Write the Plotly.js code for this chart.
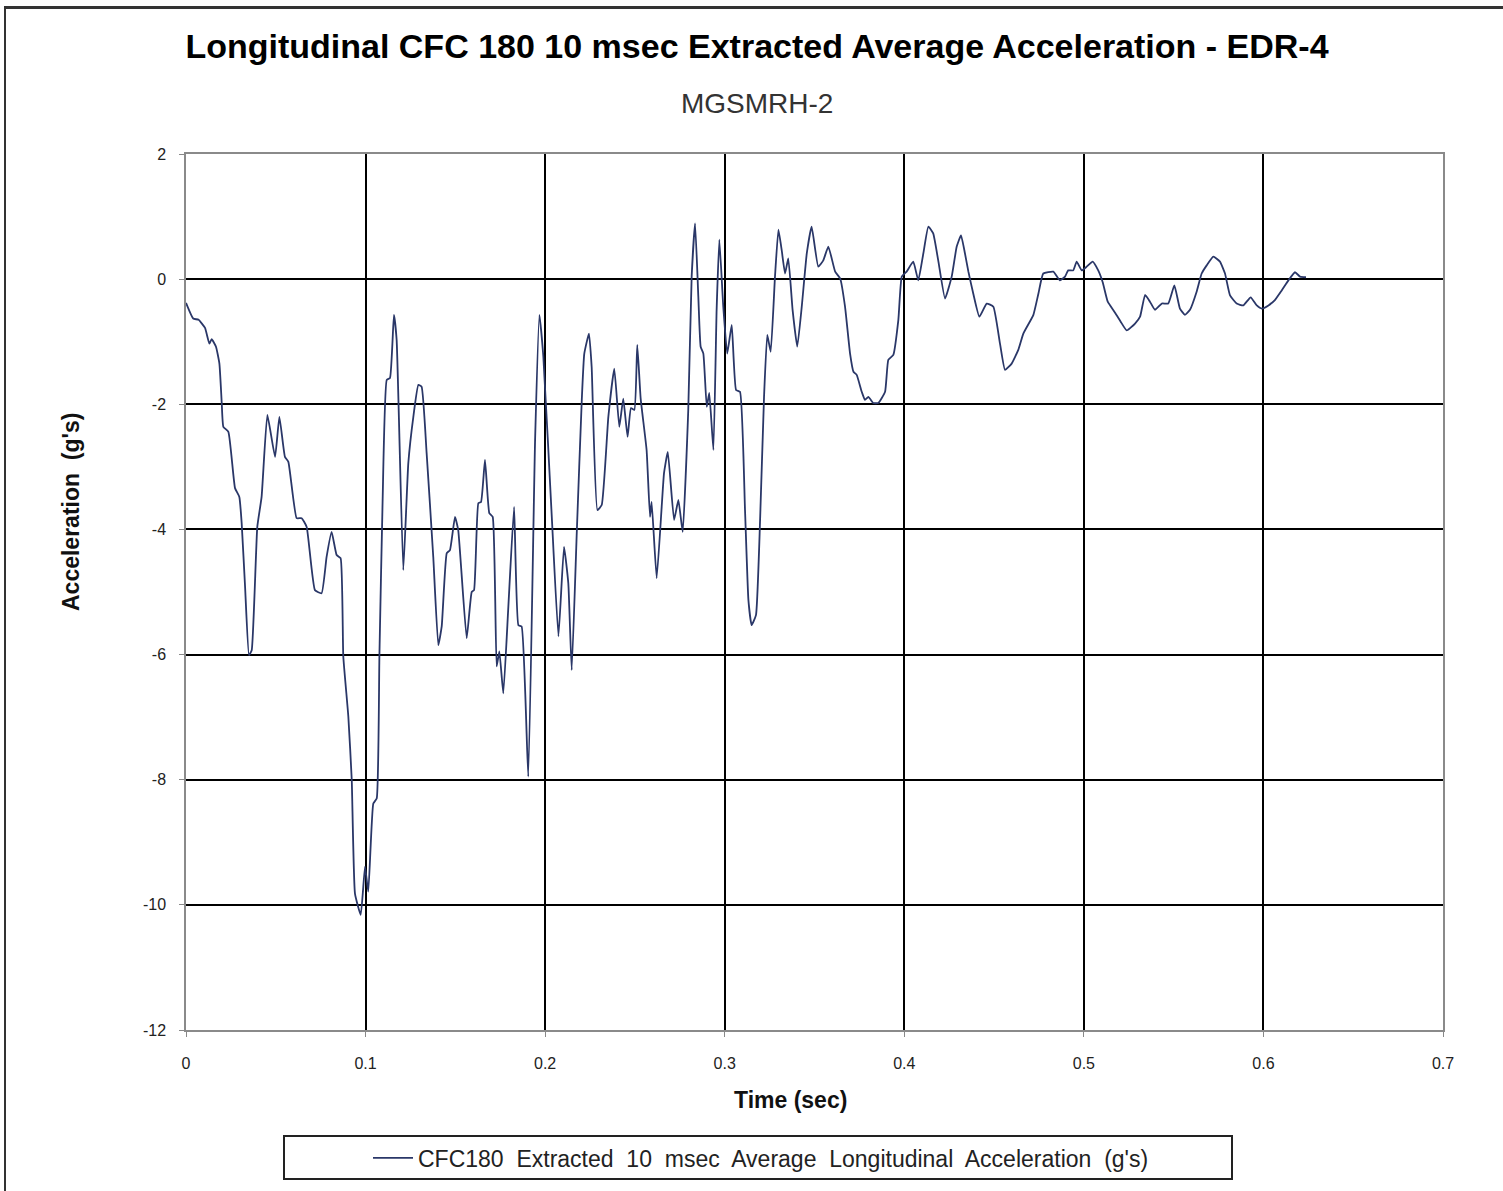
<!DOCTYPE html>
<html>
<head>
<meta charset="utf-8">
<script src="https://cdn.plot.ly/plotly-3.0.1.min.js"></script>
<style>
  html, body { margin:0; padding:0; background:#fff; }
  #wrap { position:relative; width:1503px; height:1191px; overflow:hidden; }
  #chart { width:1503px; height:1191px; }
  #frame { position:absolute; left:4px; top:6px; width:1520px; height:1200px;
           border-left:2px solid #333; border-top:3px solid #333; pointer-events:none; }
</style>
</head>
<body>
<div id="wrap">
  <div id="chart"></div>
  <div id="frame"></div>
</div>
<script>
const chartTitle = "Longitudinal CFC 180 10 msec Extracted Average Acceleration - EDR-4";
const subTitle = "MGSMRH-2";
const xTitle = "Time (sec)";
const yTitle = "Acceleration  (g's)";
const seriesName = "CFC180  Extracted  10  msec  Average  Longitudinal  Acceleration  (g's)";

const timeSec = [
  0, 0.004, 0.007, 0.0106, 0.013, 0.0143, 0.0167, 0.0186, 0.0199, 0.0208,
  0.0236, 0.0273, 0.0297, 0.031, 0.0329, 0.0351, 0.0366, 0.0397, 0.0421, 0.0453,
  0.0496, 0.052, 0.0551, 0.057, 0.0616, 0.0644, 0.0672, 0.0718, 0.0755, 0.0783,
  0.0811, 0.0839, 0.0861, 0.0876, 0.0904, 0.0923, 0.0941, 0.0973, 0.0997, 0.1015,
  0.1043, 0.1062, 0.1077, 0.1095, 0.1118, 0.1136, 0.1158, 0.1173, 0.121, 0.1238,
  0.1266, 0.1294, 0.1312, 0.134, 0.1377, 0.1405, 0.1424, 0.1452, 0.147, 0.1498,
  0.1516, 0.1563, 0.1591, 0.1604, 0.1628, 0.1643, 0.1665, 0.1689, 0.1708, 0.173,
  0.1745, 0.1767, 0.1795, 0.1827, 0.1851, 0.1869, 0.1906, 0.1944, 0.1968, 0.199,
  0.2037, 0.2074, 0.2105, 0.2129, 0.2148, 0.2176, 0.2204, 0.2218, 0.2244, 0.2259,
  0.2291, 0.2315, 0.2352, 0.2385, 0.2413, 0.2435, 0.2459, 0.2478, 0.2497, 0.2513,
  0.2532, 0.2565, 0.2584, 0.2593, 0.2621, 0.2649, 0.2662, 0.2683, 0.2718, 0.2742,
  0.2766, 0.2797, 0.2816, 0.2835, 0.2853, 0.2866, 0.2881, 0.29, 0.2914, 0.2937,
  0.2955, 0.297, 0.2992, 0.3014, 0.3039, 0.3063, 0.3085, 0.3113, 0.3132, 0.315,
  0.3174, 0.3197, 0.3219, 0.3237, 0.3256, 0.328, 0.3299, 0.3317, 0.3336, 0.3354,
  0.3378, 0.3404, 0.3429, 0.3457, 0.3484, 0.3521, 0.3549, 0.3577, 0.3615, 0.3643,
  0.367, 0.3698, 0.3717, 0.3735, 0.3763, 0.3781, 0.38, 0.3827, 0.3855, 0.3893,
  0.3911, 0.3939, 0.3967, 0.3986, 0.4013, 0.405, 0.4078, 0.4106, 0.4134, 0.4161,
  0.4189, 0.4227, 0.4264, 0.4292, 0.4316, 0.4338, 0.4357, 0.4384, 0.4418, 0.4459,
  0.4496, 0.4533, 0.4561, 0.4598, 0.4635, 0.4663, 0.4719, 0.4747, 0.4774, 0.483,
  0.4867, 0.4895, 0.4913, 0.4941, 0.496, 0.4988, 0.5016, 0.5049, 0.508, 0.5105,
  0.5133, 0.517, 0.5205, 0.5239, 0.5285, 0.5313, 0.5341, 0.5368, 0.5396, 0.5434,
  0.547, 0.5504, 0.5535, 0.5563, 0.5591, 0.5628, 0.5656, 0.5684, 0.5721, 0.5758,
  0.5786, 0.5814, 0.5851, 0.5888, 0.5929, 0.5963, 0.5991, 0.6028, 0.6065, 0.6102,
  0.6139, 0.6176, 0.6204, 0.6237
];

const accelG = [
  -0.38, -0.63, -0.65, -0.78, -1.03, -0.96, -1.08, -1.35, -1.98, -2.36,
  -2.44, -3.34, -3.48, -3.90, -4.92, -6.01, -5.93, -3.96, -3.48, -2.17,
  -2.84, -2.20, -2.84, -2.92, -3.82, -3.82, -3.96, -4.97, -5.02, -4.44,
  -4.04, -4.41, -4.46, -6.03, -6.99, -8.00, -9.82, -10.16, -9.39, -9.79,
  -8.38, -8.30, -6.03, -3.53, -1.61, -1.58, -0.57, -0.97, -4.65, -2.94,
  -2.20, -1.69, -1.72, -2.78, -4.44, -5.85, -5.55, -4.38, -4.33, -3.80,
  -4.01, -5.74, -5.00, -4.97, -3.58, -3.56, -2.89, -3.74, -3.80, -6.19,
  -5.95, -6.62, -5.24, -3.64, -5.53, -5.55, -7.95, -2.57, -0.57, -1.24,
  -3.80, -5.71, -4.28, -4.86, -6.25, -4.06, -1.93, -1.19, -0.87, -1.40,
  -3.69, -3.61, -2.20, -1.43, -2.36, -1.91, -2.52, -2.06, -2.09, -1.05,
  -1.91, -2.73, -3.80, -3.56, -4.78, -3.64, -3.10, -2.76, -3.85, -3.53,
  -4.04, -2.09, 0.04, 0.89, -0.28, -1.08, -1.19, -2.04, -1.82, -2.73,
  -0.49, 0.63, -0.44, -1.19, -0.73, -1.77, -1.80, -3.69, -5.13, -5.53,
  -5.37, -3.85, -1.88, -0.89, -1.16, 0.04, 0.79, 0.47, 0.09, 0.33,
  -0.49, -1.08, -0.44, 0.41, 0.84, 0.20, 0.30, 0.52, 0.12, 0.01,
  -0.44, -1.19, -1.48, -1.53, -1.80, -1.93, -1.88, -1.98, -1.98, -1.80,
  -1.29, -1.21, -0.65, 0.04, 0.12, 0.28, -0.02, 0.41, 0.84, 0.73,
  0.30, -0.31, 0.04, 0.52, 0.70, 0.41, 0.12, -0.23, -0.60, -0.39,
  -0.44, -1.03, -1.45, -1.35, -1.13, -0.87, -0.57, -0.23, 0.09, 0.12,
  -0.02, 0.04, 0.14, 0.14, 0.28, 0.14, 0.20, 0.28, 0.14, -0.05,
  -0.36, -0.52, -0.68, -0.82, -0.71, -0.60, -0.25, -0.36, -0.49, -0.39,
  -0.39, -0.10, -0.47, -0.57, -0.49, -0.20, 0.09, 0.22, 0.36, 0.28,
  0.09, -0.26, -0.39, -0.42, -0.29, -0.42, -0.47, -0.42, -0.33, -0.18,
  -0.02, 0.11, 0.04, 0.03
];

const xTickVals = [0, 0.1, 0.2, 0.3, 0.4, 0.5, 0.6, 0.7];
const xTickText = ["0", "0.1", "0.2", "0.3", "0.4", "0.5", "0.6", "0.7"];
const yTickVals = [2, 0, -2, -4, -6, -8, -10, -12];
const yTickText = ["2", "0", "-2", "-4", "-6", "-8", "-10", "-12"];

const FONT = "Liberation Sans, Arial, sans-serif";

const trace = {
  x: timeSec,
  y: accelG,
  type: "scatter",
  mode: "lines",
  name: seriesName,
  line: { color: "#2A3768", width: 1.8, shape: "spline", smoothing: 0.4 },
  hoverinfo: "x+y"
};

// pixel helpers for placing text in paper coords (plot area 186..1443 x 154..1030)
const px = v => (v - 186) / 1257;
const py = v => (1030 - v) / 876;

const layout = {
  width: 1503,
  height: 1191,
  paper_bgcolor: "#ffffff",
  plot_bgcolor: "#ffffff",
  margin: { l: 186, r: 60, t: 154, b: 161, pad: 0 },
  font: { family: FONT, color: "#222" },
  title: {
    text: "<b>" + chartTitle + "</b>",
    font: { family: FONT, size: 34, color: "#000" },
    x: 757 / 1503, xanchor: "center",
    y: 1 - 46 / 1191, yref: "container", yanchor: "middle"
  },
  xaxis: {
    range: [0, 0.7],
    tickvals: xTickVals,
    ticktext: xTickText,
    tickfont: { family: FONT, size: 16, color: "#222" },
    ticks: "outside", ticklen: 5, tickcolor: "#888", tickwidth: 1,
    ticklabelstandoff: 13,
    showgrid: true, gridcolor: "#000", gridwidth: 1.5,
    zeroline: false,
    showline: true, linecolor: "#8a8a8a", linewidth: 1.5, mirror: true
  },
  yaxis: {
    range: [-12, 2],
    tickvals: yTickVals,
    ticktext: yTickText,
    tickfont: { family: FONT, size: 16, color: "#222" },
    ticks: "outside", ticklen: 5, tickcolor: "#888", tickwidth: 1,
    ticklabelstandoff: 10,
    showgrid: true, gridcolor: "#000", gridwidth: 1.5,
    zeroline: true, zerolinecolor: "#000", zerolinewidth: 1.5,
    showline: true, linecolor: "#8a8a8a", linewidth: 1.5, mirror: true
  },
  showlegend: true,
  legend: {
    orientation: "h",
    x: px(761), xanchor: "center",
    y: py(1158), yanchor: "middle",
    bgcolor: "rgba(0,0,0,0)",
    borderwidth: 0,
    font: { family: FONT, size: 23, color: "#222" },
    itemwidth: 40
  },
  annotations: [
    {
      text: subTitle,
      xref: "paper", yref: "paper",
      x: px(757), y: py(104),
      xanchor: "center", yanchor: "middle",
      showarrow: false,
      font: { family: FONT, size: 28, color: "#333" }
    },
    {
      text: "<b>" + xTitle + "</b>",
      xref: "paper", yref: "paper",
      x: px(790), y: py(1100),
      xanchor: "center", yanchor: "middle",
      showarrow: false,
      font: { family: FONT, size: 23, color: "#111" }
    },
    {
      text: "<b>" + yTitle + "</b>",
      xref: "paper", yref: "paper",
      x: px(71), y: py(512),
      xanchor: "center", yanchor: "middle",
      textangle: -90,
      showarrow: false,
      font: { family: FONT, size: 23, color: "#111" }
    }
  ],
  shapes: [
    {
      type: "rect", xref: "paper", yref: "paper",
      x0: px(284), x1: px(1232),
      y0: py(1179), y1: py(1136),
      line: { color: "#222", width: 2 },
      fillcolor: "rgba(0,0,0,0)",
      layer: "below"
    }
  ]
};

Plotly.newPlot("chart", [trace], layout, { displayModeBar: false });
</script>
</body>
</html>
